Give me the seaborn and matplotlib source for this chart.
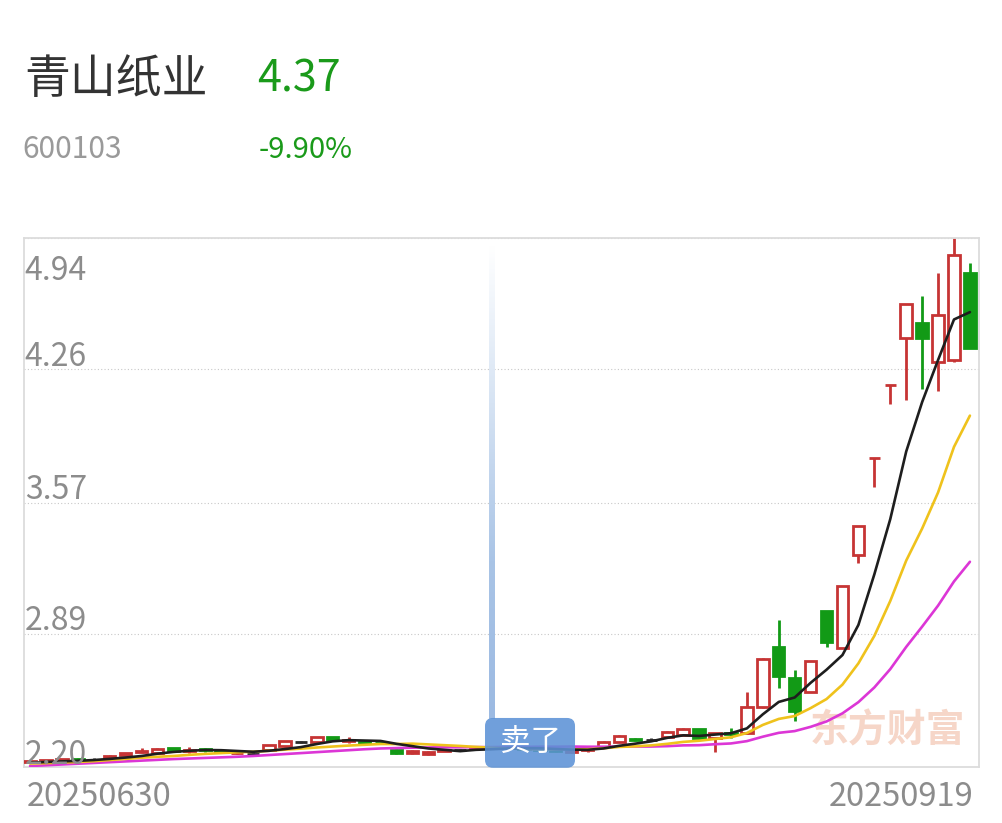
import numpy as np
import pandas as pd
import matplotlib
matplotlib.use("Agg")
import matplotlib.pyplot as plt
import seaborn as sns
from matplotlib.patches import FancyBboxPatch
from matplotlib.colors import LinearSegmentedColormap

# ---------------- data ----------------
stock_name = "青山纸业"
stock_code = "600103"
last_price = "4.37"
change_pct = "-9.90%"
date_labels = ["20250630", "20250919"]
y_ticks = [2.20, 2.89, 3.57, 4.26, 4.94]
sell_index = 29
sell_label = "卖了"
watermark = "东方财富"

opens = [2.225, 2.228, 2.232, 2.243, 2.238, 2.250, 2.262, 2.278, 2.272, 2.297,
         2.284, 2.292, 2.284, 2.270, 2.266, 2.290, 2.307, 2.329, 2.329, 2.356,
         2.333, 2.328, 2.326, 2.290, 2.272, 2.268, 2.285, 2.288, 2.300, 2.300,
         2.296, 2.298, 2.294, 2.290, 2.278, 2.288, 2.305, 2.331, 2.345, 2.340,
         2.357, 2.366, 2.395, 2.348, 2.378, 2.375, 2.510, 2.820, 2.660, 2.590,
         3.010, 2.815, 3.300, 3.800, 4.180, 4.420, 4.500, 4.300, 4.310, 4.760]
highs = [2.236, 2.238, 2.242, 2.247, 2.245, 2.262, 2.272, 2.298, 2.297, 2.298,
         2.302, 2.300, 2.292, 2.278, 2.270, 2.314, 2.335, 2.336, 2.355, 2.357,
         2.355, 2.338, 2.330, 2.292, 2.286, 2.282, 2.294, 2.292, 2.308, 2.304,
         2.304, 2.302, 2.298, 2.294, 2.286, 2.298, 2.333, 2.368, 2.350, 2.348,
         2.385, 2.402, 2.398, 2.378, 2.400, 2.590, 2.763, 2.960, 2.700, 2.750,
         3.010, 3.140, 3.450, 3.800, 4.180, 4.600, 4.640, 4.760, 4.940, 4.810]
lows = [2.222, 2.225, 2.230, 2.236, 2.234, 2.248, 2.260, 2.270, 2.270, 2.283,
        2.274, 2.278, 2.270, 2.266, 2.258, 2.288, 2.305, 2.322, 2.327, 2.338,
        2.322, 2.315, 2.318, 2.268, 2.266, 2.262, 2.282, 2.284, 2.296, 2.294,
        2.292, 2.290, 2.286, 2.280, 2.272, 2.280, 2.303, 2.329, 2.335, 2.336,
        2.355, 2.364, 2.345, 2.279, 2.350, 2.370, 2.504, 2.610, 2.440, 2.590,
        2.820, 2.815, 3.255, 3.650, 4.080, 4.100, 4.160, 4.150, 4.300, 4.370]
closes = [2.232, 2.234, 2.240, 2.238, 2.238, 2.258, 2.270, 2.282, 2.295, 2.285,
          2.288, 2.288, 2.280, 2.275, 2.266, 2.312, 2.333, 2.329, 2.353, 2.340,
          2.338, 2.324, 2.322, 2.274, 2.282, 2.278, 2.290, 2.288, 2.305, 2.298,
          2.300, 2.294, 2.290, 2.284, 2.282, 2.293, 2.331, 2.360, 2.341, 2.340,
          2.383, 2.395, 2.348, 2.375, 2.372, 2.510, 2.760, 2.670, 2.490, 2.750,
          2.850, 3.140, 3.450, 3.800, 4.180, 4.600, 4.420, 4.540, 4.850, 4.370]
ma5 = [2.222, 2.226, 2.229, 2.232, 2.236, 2.242, 2.249, 2.257, 2.269, 2.278,
       2.284, 2.288, 2.287, 2.283, 2.279, 2.284, 2.293, 2.303, 2.319, 2.333,
       2.339, 2.337, 2.335, 2.320, 2.308, 2.296, 2.289, 2.282, 2.289, 2.292,
       2.296, 2.297, 2.297, 2.293, 2.290, 2.289, 2.296, 2.310, 2.321, 2.333,
       2.351, 2.364, 2.361, 2.368, 2.375, 2.400, 2.473, 2.537, 2.560, 2.636,
       2.704, 2.780, 2.936, 3.198, 3.484, 3.834, 4.090, 4.308, 4.518, 4.556]
ma10 = [2.218, 2.220, 2.223, 2.226, 2.230, 2.236, 2.242, 2.248, 2.253, 2.257,
        2.263, 2.268, 2.272, 2.276, 2.279, 2.284, 2.290, 2.295, 2.301, 2.306,
        2.311, 2.315, 2.319, 2.319, 2.321, 2.317, 2.313, 2.309, 2.304, 2.300,
        2.296, 2.293, 2.290, 2.291, 2.291, 2.292, 2.297, 2.304, 2.307, 2.312,
        2.320, 2.330, 2.336, 2.345, 2.354, 2.376, 2.418, 2.449, 2.464, 2.505,
        2.552, 2.627, 2.737, 2.879, 3.060, 3.269, 3.435, 3.622, 3.858, 4.020]
ma20 = [2.205, 2.209, 2.213, 2.217, 2.221, 2.225, 2.229, 2.233, 2.237, 2.241,
        2.244, 2.247, 2.250, 2.253, 2.257, 2.262, 2.267, 2.272, 2.277, 2.282,
        2.287, 2.292, 2.296, 2.298, 2.300, 2.301, 2.302, 2.302, 2.303, 2.303,
        2.304, 2.304, 2.305, 2.305, 2.306, 2.305, 2.305, 2.306, 2.306, 2.306,
        2.308, 2.312, 2.313, 2.318, 2.322, 2.334, 2.357, 2.377, 2.386, 2.408,
        2.436, 2.478, 2.536, 2.612, 2.707, 2.822, 2.927, 3.036, 3.161, 3.263]

# ---------------- style ----------------
sns.set_style("white")
plt.rcParams["font.family"] = ["Noto Sans CJK SC", "DejaVu Sans"]

RED = "#c63434"
GREEN = "#129a16"
DOJI = "#2a2a2a"
GRAY = "#8c8c8c"

df = pd.DataFrame({"idx": np.arange(len(closes)), "open": opens, "high": highs,
                   "low": lows, "close": closes, "ma5": ma5, "ma10": ma10, "ma20": ma20})

fig = plt.figure(figsize=(10.02, 8.23), dpi=100)
ax = fig.add_axes([24 / 1002, 56 / 823, 955 / 1002, 529 / 823])

ymin, ymax = y_ticks[0], y_ticks[-1]

# vertical sell marker (gradient band)
grad = np.linspace(0, 1, 256).reshape(-1, 1)
cmap = LinearSegmentedColormap.from_list("g", ["#ffffff", "#d6e3f3", "#a9c4e6", "#9cbae2"])
ax.imshow(grad, extent=[sell_index - 0.17, sell_index + 0.17, 2.45, ymax - 0.04],
          origin="upper", aspect="auto", cmap=cmap, zorder=1)

# candles
prev = [closes[0]] + closes[:-1]
colors = []
for o, c, p in zip(opens, closes, prev):
    if c > o:
        colors.append(RED)
    elif c < o:
        colors.append(GREEN)
    else:
        colors.append(RED if c > p * 1.03 else DOJI)

ax.vlines(df["idx"], df["low"], df["high"], colors=colors, linewidth=2.0, zorder=2)
bottoms = np.minimum(df["open"], df["close"])
heights = np.abs(df["close"] - df["open"])
faces = ["white" if col == RED else col for col in colors]
ax.bar(df["idx"], heights, bottom=bottoms, width=0.72, color=faces,
       edgecolor=colors, linewidth=2.0, zorder=3)

# moving averages
sns.lineplot(data=df, x="idx", y="ma20", ax=ax, color="#dc36d6", linewidth=1.9, zorder=4)
sns.lineplot(data=df, x="idx", y="ma10", ax=ax, color="#efc21c", linewidth=1.9, zorder=4)
sns.lineplot(data=df, x="idx", y="ma5", ax=ax, color="#1e1e1e", linewidth=1.9, zorder=4)

# sell label box
x_unit = 1.0 / 15.93
y_unit = (ymax - ymin) / 529
box = FancyBboxPatch((sell_index - 0.44, ymin - 0.004), 5.65, 0.258,
                     boxstyle="round,pad=0,rounding_size=0.5",
                     mutation_aspect=y_unit / x_unit,
                     facecolor="#5c92d6", edgecolor="none", alpha=0.88,
                     zorder=5, clip_on=False)
ax.add_patch(box)
ax.text(sell_index - 0.44 + 5.65 / 2, ymin + 0.125, sell_label, color="white",
        fontsize=22, ha="center", va="center", zorder=6)

# watermark
ax.text(0.986, 0.068, watermark, transform=ax.transAxes, ha="right", va="center",
        fontsize=28, fontweight="bold", color="#f6d6c8", zorder=1)

ax.set_xlim(-0.38, 59.57)
ax.set_ylim(ymin, ymax)
ax.set_yticks(y_ticks)
ax.set_xticks([])
ax.set_yticklabels([])
ax.tick_params(left=False, bottom=False)
ax.set_xlabel("")
ax.set_ylabel("")
ax.grid(axis="y", linestyle=(0, (1, 2)), color="#c8c8c8", linewidth=0.8)
for s in ax.spines.values():
    s.set_color("#dcdcdc")
    s.set_linewidth(1.3)

for v in y_ticks:
    if v == ymax:
        ax.annotate(f"{v:.2f}", xy=(0, v), xycoords=("axes fraction", "data"),
                    xytext=(0.5, -30), textcoords="offset points",
                    ha="left", va="baseline", fontsize=23, color=GRAY, zorder=7)
    else:
        ax.annotate(f"{v:.2f}", xy=(0, v), xycoords=("axes fraction", "data"),
                    xytext=(0.5, 2.5), textcoords="offset points",
                    ha="left", va="baseline", fontsize=23, color=GRAY, zorder=7)

# header texts
fig.text(24 / 1002, 1 - 80 / 823, stock_name, fontsize=33, color="#333333",
         ha="left", va="center")
fig.text(257 / 1002, 1 - 80 / 823, last_price, fontsize=31, color="#1a9a1a",
         ha="left", va="center")
fig.text(22 / 1002, 1 - 150 / 823, stock_code, fontsize=21.5, color="#9a9a9a",
         ha="left", va="center")
fig.text(259 / 1002, 1 - 150 / 823, change_pct, fontsize=21, color="#1a9a1a",
         ha="left", va="center")

# date labels
fig.text(27 / 1002, 1 - 797 / 823, date_labels[0], fontsize=23.5, color=GRAY,
         ha="left", va="center")
fig.text(974 / 1002, 1 - 797 / 823, date_labels[1], fontsize=23.5, color=GRAY,
         ha="right", va="center")

fig.savefig("out.png", dpi=100)
